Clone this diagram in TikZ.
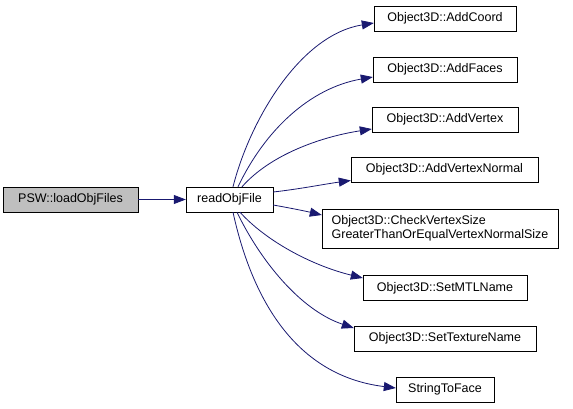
\documentclass[tikz,border=0pt]{standalone}
\usepackage{fontspec}
\setmainfont{Liberation Sans}
\usetikzlibrary{arrows.meta}
\definecolor{edgeblue}{HTML}{191970}
\definecolor{rootgray}{HTML}{BFBFBF}
\begin{document}
\begin{tikzpicture}[x=1pt,y=-1pt,
  fn/.style={draw=black,fill=white,inner sep=0pt,minimum height=25pt,
    font=\fontsize{12.5}{14.5}\selectfont},
  call/.style={draw=edgeblue,line width=0.8pt,
    -{Triangle[length=12pt,width=9pt,fill=edgeblue]}}]
  \useasboundingbox (0,0) rectangle (573,408);
  % caller and function
  \node[fn,fill=rootgray,minimum width=135pt] (load) at (70.5,199.5) {PSW::loadObjFiles};
  \node[fn,minimum width=87pt] (read) at (229.5,199.5) {readObjFile};
  % callees
  \node[fn,minimum width=142pt] (coord) at (445,18.5) {Object3D::AddCoord};
  \node[fn,minimum width=144pt] (faces) at (445,69.5) {Object3D::AddFaces};
  \node[fn,minimum width=146pt] (vertex) at (445,119.5) {Object3D::AddVertex};
  \node[fn,minimum width=187pt] (normal) at (444.5,169.5) {Object3D::AddVertexNormal};
  \node[fn,minimum width=236pt,minimum height=39pt,align=left] (check) at (440,228.5)
    {Object3D::CheckVertexSize\\GreaterThanOrEqualVertexNormalSize};
  \node[fn,minimum width=164pt] (mtl) at (445,288) {Object3D::SetMTLName};
  \node[fn,minimum width=182pt] (texture) at (445,338.5) {Object3D::SetTextureName};
  \node[fn,minimum width=98pt] (face) at (445,389.5) {StringToFace};
  % calls
  \draw[call] (load) -- (read);
  \draw[call] ([xshift=3.5pt]read.north) .. controls (250,120) and (300,35) .. ([yshift=-4.5pt]coord.west);
  \draw[call] ([xshift=8.5pt]read.north) .. controls (265,130) and (310,88) .. ([yshift=-7.5pt]faces.west);
  \draw[call] ([xshift=12.5pt]read.north) .. controls (270,155) and (320,137) .. ([yshift=-9.5pt]vertex.west);
  \draw[call] ([yshift=7.5pt]read.east) .. controls (300,189) and (325,184) .. ([yshift=-11pt]normal.west);
  \draw[call] ([yshift=-5.5pt]read.east) .. controls (290,208) and (305,211) .. ([yshift=13.5pt]check.west);
  \draw[call] ([xshift=10.5pt]read.south) .. controls (265,240) and (310,265) .. ([yshift=10pt]mtl.west);
  \draw[call] ([xshift=7.5pt]read.south) .. controls (260,260) and (300,310) .. ([yshift=10.5pt]texture.west);
  \draw[call] ([xshift=3.5pt]read.south) .. controls (250,290) and (290,375) .. ([yshift=1.5pt]face.west);
\end{tikzpicture}
\end{document}
